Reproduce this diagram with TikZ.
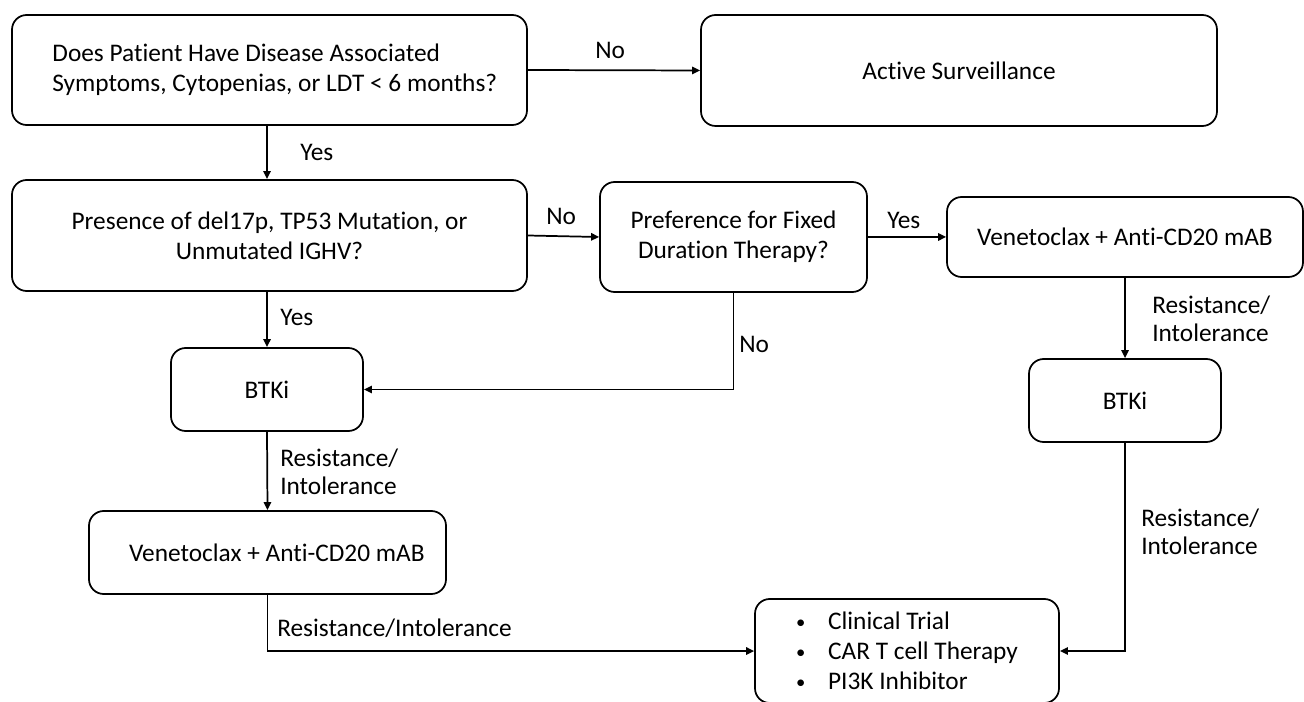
\documentclass[tikz,border=0pt]{standalone}
\usepackage{fontspec}
\setmainfont{Carlito}[Ligatures=NoCommon]
\usetikzlibrary{arrows.meta}
\newcommand{\optbullet}{\raisebox{1.2pt}{\fontsize{14pt}{14pt}\selectfont\textbullet}\hspace{17pt}}
\tikzset{
  box/.style={draw, rounded corners=11pt, line width=1.3pt, inner sep=0pt, align=center,
    font=\fontsize{19pt}{22.5pt}\selectfont},
  lbl/.style={inner sep=0pt, anchor=west, align=left, font=\fontsize{19pt}{21pt}\selectfont},
  arr/.style={line width=1.3pt, -{Triangle[length=6pt,width=5.5pt]}},
  con/.style={line width=1.3pt}
}
\begin{document}
\begin{tikzpicture}[x=0.75pt, y=-0.75pt]
  \useasboundingbox (0,0) rectangle (1304,702);
  \node[box, align=left, minimum width=386.25pt, minimum height=82.5pt] (q1) at (269.5,70)
    {\hspace{8pt}Does Patient Have Disease Associated\\\hspace{8pt}Symptoms, Cytopenias, or LDT < 6 months?};
  \node[box, minimum width=387pt, minimum height=83.25pt] (surv) at (959,70.5) {Active Surveillance};
  \node[box, minimum width=386.25pt, minimum height=83.25pt] (q2) at (269.5,235.5)
    {Presence of del17p, TP53 Mutation, or\\Unmutated IGHV?};
  \node[box, minimum width=200.25pt, minimum height=82.5pt] (q3) at (733.5,237)
    {Preference for Fixed\\Duration Therapy?};
  \node[box, minimum width=267pt, minimum height=60pt] (ven1) at (1125,237) {Venetoclax + Anti-CD20 mAB};
  \node[box, minimum width=144pt, minimum height=62.25pt] (btk1) at (267,389.5) {BTKi};
  \node[box, minimum width=144pt, minimum height=62.25pt] (btk2) at (1125,400.5) {BTKi};
  \node[box, minimum width=267.75pt, minimum height=62.25pt] (ven2) at (267.5,552.5) {\hspace{14pt}Venetoclax + Anti-CD20 mAB};
  \node[box, align=left, minimum width=228pt, minimum height=78pt] (opts) at (907,651)
    {\optbullet Clinical Trial\\\optbullet CAR T cell Therapy\\\optbullet PI3K Inhibitor};

  \draw[arr] (q1.east) -- (surv.west);
  \draw[arr] (btk1.north |- q1.south) -- (btk1.north |- q2.north);
  \draw[arr] (q2.east) -- (q3.west);
  \draw[arr] (q3.east) -- (ven1.west);
  \draw[arr] (btk1.north |- q2.south) -- (btk1.north);
  \draw[arr] (q3.south) |- (btk1.east);
  \draw[arr] (ven1.south) -- (btk2.north);
  \draw[arr] (btk1.south) -- (ven2.north);
  \draw[arr] (ven2.south) |- (opts.west);
  \draw[arr] (btk2.south) |- (opts.east);

  \node[lbl] (l1) at (595,50) {No};
  \node[lbl] (l2) at (300,152) {Yes};
  \node[lbl] (l3) at (546,216) {No};
  \node[lbl] (l4) at (887,220) {Yes};
  \node[lbl] (l5) at (280,317) {Yes};
  \node[lbl] (l6) at (739,344) {No};
  \node[lbl] (l7) at (1152,319) {Resistance/\\Intolerance};
  \node[lbl] (l8) at (280,471.5) {Resistance/\\Intolerance};
  \node[lbl] (l9) at (277,628) {Resistance/Intolerance};
  \node[lbl] (l10) at (1141,532) {Resistance/\\Intolerance};
\end{tikzpicture}
\end{document}
